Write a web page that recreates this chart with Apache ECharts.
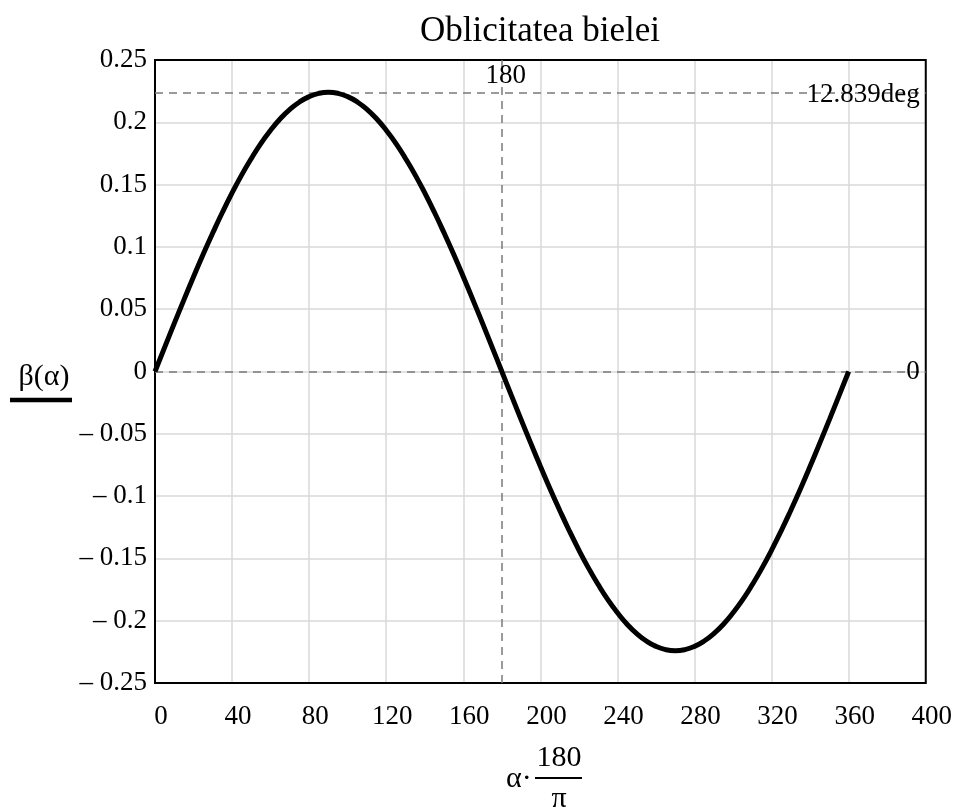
<!DOCTYPE html>
<html>
<head>
<meta charset="utf-8">
<script src="https://cdn.jsdelivr.net/npm/echarts@6/dist/echarts.min.js"></script>
<style>html,body{margin:0;padding:0;background:#fff}#c{width:955px;height:811px}</style>
</head>
<body>
<div id="c"></div>
<script>
// Crank angle alpha*180/pi (degrees)
var alphaDeg = [0,5,10,15,20,25,30,35,40,45,50,55,60,65,70,75,80,85,90,
                95,100,105,110,115,120,125,130,135,140,145,150,155,160,165,170,175,180,
                185,190,195,200,205,210,215,220,225,230,235,240,245,250,255,260,265,270,
                275,280,285,290,295,300,305,310,315,320,325,330,335,340,345,350,355,360];
// beta(alpha) (rad)
var betaVals = [0,0.0194,0.0386,0.0575,0.0761,0.0941,0.1113,0.1278,0.1433,0.1578,0.1710,0.1831,0.1936,0.2028,0.2104,0.2163,0.2206,0.2232,0.2241,
                0.2232,0.2206,0.2163,0.2104,0.2028,0.1936,0.1831,0.1710,0.1578,0.1433,0.1278,0.1113,0.0941,0.0761,0.0575,0.0386,0.0194,0,
                -0.0194,-0.0386,-0.0575,-0.0761,-0.0941,-0.1113,-0.1278,-0.1433,-0.1578,-0.1710,-0.1831,-0.1936,-0.2028,-0.2104,-0.2163,-0.2206,-0.2232,-0.2241,
                -0.2232,-0.2206,-0.2163,-0.2104,-0.2028,-0.1936,-0.1831,-0.1710,-0.1578,-0.1433,-0.1278,-0.1113,-0.0941,-0.0761,-0.0575,-0.0386,-0.0194,0];
var xTicks = {min:0, max:400, interval:40};
var yTicks = {min:-0.25, max:0.25, interval:0.05};
var maxBeta = 0.2241, maxLabel = '12.839deg';
var markerX = 180, zeroLabel = '0';
var titleText = 'Oblicitatea bielei';

var FONT = '"Liberation Serif","Times New Roman",serif';
var chart = echarts.init(document.getElementById('c'), null, {renderer:'canvas'});
var data = alphaDeg.map(function(a,i){return [a, betaVals[i]];});
var dashStyle = {color:'#7a7a7a', type:[8,6], width:1.5};

chart.setOption({
  animation:false,
  backgroundColor:'#fff',
  title:{text:titleText, left:535, top:9, textAlign:'center',
    textStyle:{fontFamily:FONT, fontSize:35, fontWeight:'normal', color:'#000'}},
  grid:{left:155, right:28, top:60, bottom:128, show:true, borderColor:'#000', borderWidth:2, z:3},
  xAxis:{type:'value', min:xTicks.min, max:xTicks.max, interval:xTicks.interval,
    axisLine:{show:false}, axisTick:{show:false},
    splitLine:{show:true, lineStyle:{color:'#d9d9d9', width:1.5}},
    axisLabel:{fontFamily:FONT, fontSize:27, color:'#000', margin:20, padding:[0,0,0,12]}},
  yAxis:{type:'value', min:yTicks.min, max:yTicks.max, interval:yTicks.interval,
    axisLine:{show:false}, axisTick:{show:false},
    splitLine:{show:true, lineStyle:{color:'#d9d9d9', width:1.5}},
    axisLabel:{fontFamily:FONT, fontSize:27, color:'#000', margin:8, padding:[10,0,0,0],
      formatter:function(v){
        var r = Math.round(v*100)/100;
        if (r === 0) return '0';
        if (r < 0) return '\u2013 ' + String(-r);
        return String(r);
      }}},
  series:[
    {type:'line', data:data, smooth:true, symbol:'none', z:5,
     lineStyle:{color:'#000', width:5},
     markLine:{silent:true, symbol:'none', precision:4, lineStyle:dashStyle, label:{show:false},
       data:[{yAxis:maxBeta},{yAxis:0},{xAxis:markerX}]}},
    {type:'scatter', symbolSize:0, z:6, silent:true,
     itemStyle:{color:'#000', opacity:1},
     data:[
       {value:[xTicks.max, maxBeta], label:{show:true, position:'left', distance:6, formatter:maxLabel, offset:[0,3]}},
       {value:[xTicks.max, 0], label:{show:true, position:'left', distance:6, formatter:zeroLabel}},
       {value:[markerX, yTicks.max], label:{show:true, position:'bottom', distance:2, formatter:String(markerX), offset:[4,0]}}
     ],
     label:{fontFamily:FONT, fontSize:27, color:'#000', opacity:1}}
  ],
  graphic:[
    {type:'text', x:44, y:377, style:{text:'\u03b2(\u03b1)', font:'30px '+FONT, fill:'#000', textAlign:'center', textVerticalAlign:'middle'}},
    {type:'line', shape:{x1:10, y1:400, x2:72, y2:400}, style:{stroke:'#000', lineWidth:4.5}},
    {type:'text', x:506, y:779, style:{text:'\u03b1\u00b7', font:'30px '+FONT, fill:'#000', textVerticalAlign:'middle'}},
    {type:'text', x:559, y:758, style:{text:'180', font:'30px '+FONT, fill:'#000', textAlign:'center', textVerticalAlign:'middle'}},
    {type:'line', shape:{x1:535, y1:778, x2:582, y2:778}, style:{stroke:'#000', lineWidth:2}},
    {type:'text', x:559, y:799, style:{text:'\u03c0', font:'30px '+FONT, fill:'#000', textAlign:'center', textVerticalAlign:'middle'}}
  ]
});
</script>
</body>
</html>
